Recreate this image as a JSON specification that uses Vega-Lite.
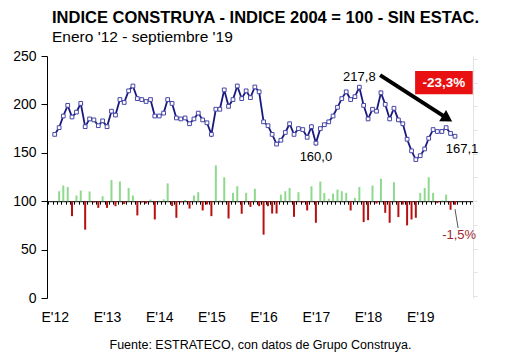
{
  "$schema": "https://vega.github.io/schema/vega-lite/v6.json",
  "width": 426,
  "height": 242,
  "autosize": {"type": "none"},
  "padding": {"left": 47, "top": 56, "right": 57, "bottom": 57},
  "background": "white",
  "config": {"view": {"stroke": null}, "font": "Liberation Sans"},
  "title": {
    "text": "INDICE CONSTRUYA - INDICE 2004 = 100 - SIN ESTAC.",
    "subtitle": "Enero '12 - septiembre '19",
    "anchor": "start", "frame": "group", "dx": 5, "offset": 4,
    "font": "Liberation Sans", "fontSize": 16.5, "fontWeight": "bold", "color": "black",
    "subtitleFont": "Liberation Sans", "subtitleFontSize": 15.5, "subtitleColor": "black", "subtitlePadding": 3
  },
  "datasets": {
    "main": [
      {"d":"2012-01-01","v":169,"p":null},{"d":"2012-02-01","v":176,"p":4.2},{"d":"2012-03-01","v":188,"p":6.6},{"d":"2012-04-01","v":199,"p":6.0},{"d":"2012-05-01","v":187,"p":-6.3},{"d":"2012-06-01","v":192,"p":2.4},{"d":"2012-07-01","v":201,"p":4.5},{"d":"2012-08-01","v":177,"p":-12.0},{"d":"2012-09-01","v":185,"p":4.1},{"d":"2012-10-01","v":184,"p":-0.5},{"d":"2012-11-01","v":178,"p":-2.8},{"d":"2012-12-01","v":183,"p":2.1},
      {"d":"2013-01-01","v":177,"p":-2.8},{"d":"2013-02-01","v":193,"p":8.9},{"d":"2013-03-01","v":189,"p":-2.1},{"d":"2013-04-01","v":205,"p":8.3},{"d":"2013-05-01","v":202,"p":-1.2},{"d":"2013-06-01","v":214,"p":5.6},{"d":"2013-07-01","v":219,"p":2.4},{"d":"2013-08-01","v":206,"p":-6.0},{"d":"2013-09-01","v":205,"p":-0.5},{"d":"2013-10-01","v":203,"p":-1.0},{"d":"2013-11-01","v":205,"p":0.7},{"d":"2013-12-01","v":188,"p":-7.7},
      {"d":"2014-01-01","v":188,"p":0.2},{"d":"2014-02-01","v":191,"p":0.8},{"d":"2014-03-01","v":205,"p":7.5},{"d":"2014-04-01","v":201,"p":-2.0},{"d":"2014-05-01","v":186,"p":-7.0},{"d":"2014-06-01","v":185,"p":-0.5},{"d":"2014-07-01","v":186,"p":0.5},{"d":"2014-08-01","v":180,"p":-3.1},{"d":"2014-09-01","v":185,"p":2.4},{"d":"2014-10-01","v":191,"p":3.8},{"d":"2014-11-01","v":184,"p":-3.9},{"d":"2014-12-01","v":181,"p":-1.4},
      {"d":"2015-01-01","v":169,"p":-6.3},{"d":"2015-02-01","v":195,"p":15.1},{"d":"2015-03-01","v":195,"p":0.3},{"d":"2015-04-01","v":215,"p":10.1},{"d":"2015-05-01","v":198,"p":-7.3},{"d":"2015-06-01","v":205,"p":3.5},{"d":"2015-07-01","v":219,"p":6.3},{"d":"2015-08-01","v":206,"p":-5.3},{"d":"2015-09-01","v":214,"p":3.5},{"d":"2015-10-01","v":207,"p":-2.4},{"d":"2015-11-01","v":218,"p":5.2},{"d":"2015-12-01","v":213,"p":-2.1},
      {"d":"2016-01-01","v":182,"p":-14.1},{"d":"2016-02-01","v":178,"p":-2.1},{"d":"2016-03-01","v":169,"p":-5.2},{"d":"2016-04-01","v":159,"p":-5.2},{"d":"2016-05-01","v":163,"p":2.8},{"d":"2016-06-01","v":171,"p":4.2},{"d":"2016-07-01","v":180,"p":5.6},{"d":"2016-08-01","v":169,"p":-6.6},{"d":"2016-09-01","v":175,"p":3.8},{"d":"2016-10-01","v":174,"p":-0.6},{"d":"2016-11-01","v":166,"p":-3.9},{"d":"2016-12-01","v":177,"p":6.3},
      {"d":"2017-01-01","v":160,"p":-9.1},{"d":"2017-02-01","v":175,"p":8.3},{"d":"2017-03-01","v":179,"p":3.5},{"d":"2017-04-01","v":182,"p":1.0},{"d":"2017-05-01","v":188,"p":3.2},{"d":"2017-06-01","v":197,"p":4.9},{"d":"2017-07-01","v":206,"p":4.2},{"d":"2017-08-01","v":213,"p":3.5},{"d":"2017-09-01","v":205,"p":-3.9},{"d":"2017-10-01","v":208,"p":1.4},{"d":"2017-11-01","v":217.8,"p":6.0},{"d":"2017-12-01","v":199,"p":-8.8},
      {"d":"2018-01-01","v":185,"p":-8.0},{"d":"2018-02-01","v":195,"p":6.6},{"d":"2018-03-01","v":193,"p":-1.0},{"d":"2018-04-01","v":212,"p":9.5},{"d":"2018-05-01","v":200,"p":-4.9},{"d":"2018-06-01","v":185,"p":-9.1},{"d":"2018-07-01","v":196,"p":8.0},{"d":"2018-08-01","v":184,"p":-6.7},{"d":"2018-09-01","v":180,"p":-1.4},{"d":"2018-10-01","v":164,"p":-10.2},{"d":"2018-11-01","v":152,"p":-7.7},{"d":"2018-12-01","v":143,"p":-7.0},
      {"d":"2019-01-01","v":147,"p":3.5},{"d":"2019-02-01","v":154,"p":5.6},{"d":"2019-03-01","v":165,"p":10.1},{"d":"2019-04-01","v":174,"p":3.5},{"d":"2019-05-01","v":172,"p":-0.8},{"d":"2019-06-01","v":172,"p":0.3},{"d":"2019-07-01","v":176,"p":2.8},{"d":"2019-08-01","v":170,"p":-3.6},{"d":"2019-09-01","v":167.1,"p":-1.5}
    ],
    "labels": [
      {"d":"2017-11-01","v":228,"t":"217,8"},
      {"d":"2017-01-01","v":145.5,"t":"160,0"},
      {"d":"2019-10-20","v":154,"t":"167,1"}
    ],
    "neg": [{"d":"2019-09-30","v":65,"t":"-1,5%"}],
    "leader": [{"d":"2019-09-01","v":91.8,"d2":"2019-09-23","v2":72.2}],
    "box": [{"d":"2018-11-26","v":234.4,"d2":"2020-01-03","v2":210.6,"t":"-23,3%","dm":"2019-06-16","vm":222.5}],
    "arrow": [{"d":"2018-03-26","v":230.3,"d2":"2019-06-28","v2":186.6}],
    "head": [{"d":"2019-07-10","v":185.3}]
  },
  "layer": [
    {
      "data": {"name": "main"},
      "mark": {"type": "bar", "size": 2},
      "encoding": {
        "x": {"field": "d", "type": "temporal",
          "scale": {"type": "utc", "domain": [{"year":2011,"month":12,"date":13,"utc":true},{"year":2019,"month":12,"date":1,"utc":true}]},
          "axis": {"orient": "bottom", "offset": -96.8, "labels": false, "domain": true, "domainColor": "black", "domainWidth": 1,
            "ticks": true, "tickColor": "black", "tickSize": 3, "tickCount": {"interval": "month", "step": 1}, "tickOffset": -2.2,
            "grid": false, "title": null}},
        "y": {"field": "p", "type": "quantitative",
          "scale": {"domain": [-40.816, 61.224], "nice": false, "zero": false},
          "axis": {"orient": "right", "labels": false, "domainColor": "#e3e3e3", "tickColor": "#e3e3e3", "tickSize": 4,
            "grid": false, "title": null, "values": [-40, -30, -20, -10, 0, 10, 20, 30, 40, 50, 60]}},
        "y2": {"datum": 0},
        "color": {"condition": {"test": "datum.p > 0", "value": "#8fd98f"}, "value": "#b81010"}
      }
    },
    {
      "layer": [
        {
          "data": {"name": "main"},
          "mark": {"type": "line", "color": "#18187f", "strokeWidth": 1.8},
          "encoding": {
            "x": {"field": "d", "type": "temporal",
              "scale": {"type": "utc", "domain": [{"year":2011,"month":12,"date":13,"utc":true},{"year":2019,"month":12,"date":1,"utc":true}]},
              "axis": {"orient": "bottom", "domain": false, "ticks": false, "tickSize": 0, "grid": false,
                "values": [{"year":2012,"month":1,"date":1,"utc":true},{"year":2013,"month":1,"date":1,"utc":true},{"year":2014,"month":1,"date":1,"utc":true},{"year":2015,"month":1,"date":1,"utc":true},{"year":2016,"month":1,"date":1,"utc":true},{"year":2017,"month":1,"date":1,"utc":true},{"year":2018,"month":1,"date":1,"utc":true},{"year":2019,"month":1,"date":1,"utc":true}],
                "labelExpr": "\"E'\" + utcFormat(datum.value, '%y')",
                "labelFont": "Liberation Sans", "labelFontSize": 14, "labelColor": "black", "labelPadding": 12,
                "title": "Fuente: ESTRATECO, con datos de Grupo Construya.", "titleFont": "Liberation Sans",
                "titleFontSize": 12.5, "titleFontWeight": "normal", "titleColor": "black", "titlePadding": 14}},
            "y": {"field": "v", "type": "quantitative",
              "scale": {"domain": [0, 250], "nice": false},
              "axis": {"values": [0, 50, 100, 150, 200, 250], "domainColor": "black", "tickColor": "black", "tickSize": 6,
                "labelFont": "Liberation Sans", "labelFontSize": 14, "labelColor": "black", "labelPadding": 5, "grid": false, "title": null}}
          }
        },
        {
          "data": {"name": "main"},
          "mark": {"type": "point", "shape": "square", "filled": true, "fill": "white", "stroke": "#4646a8", "strokeWidth": 1, "size": 14, "opacity": 1},
          "encoding": {
            "x": {"field": "d", "type": "temporal"},
            "y": {"field": "v", "type": "quantitative"}
          }
        },
        {
          "data": {"name": "labels"},
          "mark": {"type": "text", "fontSize": 13, "color": "black", "align": "center", "baseline": "middle", "font": "Liberation Sans"},
          "encoding": {
            "x": {"field": "d", "type": "temporal"},
            "y": {"field": "v", "type": "quantitative"},
            "text": {"field": "t"}
          }
        },
        {
          "data": {"name": "leader"},
          "mark": {"type": "rule", "color": "#555555", "strokeWidth": 1},
          "encoding": {
            "x": {"field": "d", "type": "temporal"},
            "y": {"field": "v", "type": "quantitative"},
            "x2": {"field": "d2"},
            "y2": {"field": "v2"}
          }
        },
        {
          "data": {"name": "neg"},
          "mark": {"type": "text", "fontSize": 13, "color": "#a0282d", "align": "center", "baseline": "middle", "font": "Liberation Sans"},
          "encoding": {
            "x": {"field": "d", "type": "temporal"},
            "y": {"field": "v", "type": "quantitative"},
            "text": {"field": "t"}
          }
        },
        {
          "data": {"name": "box"},
          "mark": {"type": "rect", "color": "#e81010"},
          "encoding": {
            "x": {"field": "d", "type": "temporal"},
            "y": {"field": "v", "type": "quantitative"},
            "x2": {"field": "d2"},
            "y2": {"field": "v2"}
          }
        },
        {
          "data": {"name": "box"},
          "mark": {"type": "text", "fontSize": 13.5, "fontWeight": "bold", "color": "white", "align": "center", "baseline": "middle", "font": "Liberation Sans"},
          "encoding": {
            "x": {"field": "dm", "type": "temporal"},
            "y": {"field": "vm", "type": "quantitative"},
            "text": {"field": "t"}
          }
        },
        {
          "data": {"name": "arrow"},
          "mark": {"type": "rule", "color": "black", "strokeWidth": 4},
          "encoding": {
            "x": {"field": "d", "type": "temporal"},
            "y": {"field": "v", "type": "quantitative"},
            "x2": {"field": "d2"},
            "y2": {"field": "v2"}
          }
        },
        {
          "data": {"name": "head"},
          "mark": {"type": "point", "shape": "triangle-right", "filled": true, "color": "black", "opacity": 1, "size": 170, "angle": 32},
          "encoding": {
            "x": {"field": "d", "type": "temporal"},
            "y": {"field": "v", "type": "quantitative"}
          }
        }
      ]
    }
  ],
  "resolve": {"scale": {"y": "independent"}, "axis": {"x": "independent", "y": "independent"}}
}
